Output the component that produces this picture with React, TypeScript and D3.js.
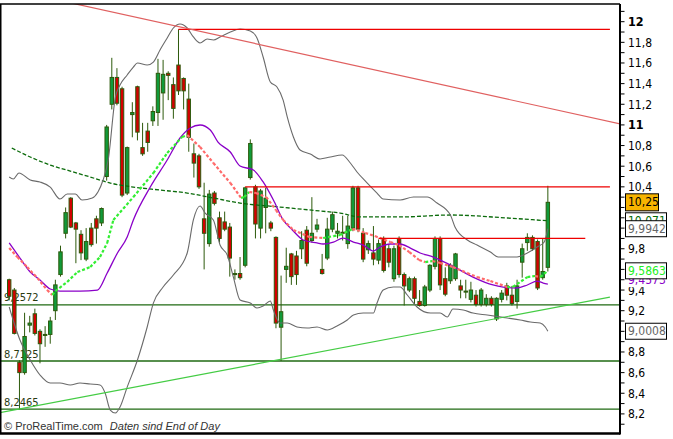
import React from "react";
import * as d3 from "d3";

const W = 673;
const H = 439;

// ---- candles (index 0..105) ----
const opens = [
  9.5, 9.4, 8.7, 8.6, 9.06, 9.17, 9.0, 8.96, 8.97, 9.2,
  9.55, 9.95, 10.29, 10.05, 9.94, 9.7, 10.0, 10.09, 10.05, 10.5,
  11.2, 11.46, 11.35, 10.34, 11.1, 11.37, 10.78, 10.94, 11.04, 11.12,
  11.31, 11.5, 11.39, 11.58, 11.45, 11.25, 10.72, 10.7, 10.09, 9.85,
  10.34, 10.1, 10.06, 10.01, 9.55, 9.56, 9.64, 10.49, 10.4, 10.0,
  10.2, 10.05, 9.91, 9.04, 9.6, 9.75, 9.73, 9.8, 9.98, 9.88,
  9.99, 9.6, 9.71, 9.99, 9.95, 9.96, 9.85, 10.0, 10.39, 9.95,
  9.79, 9.76, 9.69, 9.9, 9.8, 9.51, 9.9, 9.55, 9.4, 9.51,
  9.29, 9.25, 9.4, 9.63, 9.9, 9.51, 9.49, 9.51, 9.44, 9.38,
  9.31, 9.35, 9.26, 9.26, 9.32, 9.12, 9.31, 9.44, 9.35, 9.29,
  9.67, 9.86, 9.91, 9.87, 9.52, 9.62,
];
const highs = [
  9.51, 9.42, 8.72, 9.18, 9.15, 9.22, 9.02, 9.05, 9.14, 9.5,
  9.83, 10.2, 10.3, 10.06, 9.98, 10.0, 10.05, 10.12, 10.2, 11.0,
  11.65, 11.55, 11.37, 10.79, 11.22, 11.38, 11.02, 11.02, 11.18, 11.64,
  11.63, 11.52, 11.46, 11.926, 11.46, 11.4, 10.82, 10.72, 10.44, 10.37,
  10.36, 10.16, 10.16, 10.05, 9.6, 9.72, 10.4, 10.86, 10.42, 10.38,
  10.39, 10.07, 9.92, 9.54, 9.81, 9.76, 9.78, 9.97, 10.02, 10.3,
  10.09, 9.75, 10.1, 10.16, 10.05, 10.12, 10.12, 10.41, 10.41, 10.0,
  9.88, 10.02, 9.89, 9.92, 9.84, 9.83, 9.92, 9.57, 9.53, 9.53,
  9.4, 9.45, 9.65, 9.92, 9.92, 9.62, 9.66, 9.76, 9.5, 9.5,
  9.48, 9.4, 9.42, 9.36, 9.34, 9.33, 9.4, 9.47, 9.44, 9.5,
  9.85, 9.95, 9.93, 9.89, 9.9, 10.41,
];
const lows = [
  9.3, 8.97, 8.2465, 8.58, 8.99, 8.96, 8.69, 8.85, 8.88, 9.11,
  9.53, 9.9, 10.0, 9.66, 9.69, 9.68, 9.82, 9.85, 10.02, 10.46,
  11.15, 11.19, 10.3, 10.32, 10.88, 10.85, 10.7, 10.74, 10.99, 10.99,
  11.05, 11.24, 11.06, 11.29, 11.15, 10.74, 10.49, 10.38, 9.6, 9.82,
  10.22, 9.86, 9.97, 9.53, 9.5, 9.5, 9.62, 10.47, 9.9, 9.9,
  9.95, 9.97, 9.03, 8.7125, 9.47, 9.45, 9.45, 9.7, 9.63, 9.86,
  9.96, 9.55, 9.69, 9.96, 9.9, 9.88, 9.8, 9.97, 9.96, 9.67,
  9.75, 9.64, 9.65, 9.57, 9.62, 9.48, 9.52, 9.25, 9.38, 9.26,
  9.24, 9.24, 9.38, 9.6, 9.4, 9.34, 9.46, 9.49, 9.32, 9.32,
  9.28, 9.24, 9.24, 9.24, 9.24, 9.1, 9.28, 9.3, 9.25, 9.22,
  9.52, 9.78, 9.78, 9.4, 9.5, 9.58,
];
const closes = [
  9.34, 8.98, 8.6, 8.95, 9.08, 8.98, 8.88, 8.97, 9.1, 9.45,
  9.77, 10.15, 10.01, 9.99, 9.76, 9.87, 9.84, 10.0, 10.19, 10.98,
  11.46, 11.21, 10.32, 10.78, 11.12, 10.93, 10.72, 10.83, 11.13, 11.5,
  11.49, 11.48, 11.16, 11.33, 11.33, 10.88, 10.63, 10.4, 9.95, 10.33,
  10.24, 9.9, 9.99, 9.71, 9.56, 9.52, 10.39, 10.82, 10.04, 10.36,
  10.29, 10.0, 9.08, 9.19, 9.63, 9.53, 9.55, 9.88, 9.66, 9.95,
  10.03, 9.56, 9.99, 10.13, 9.97, 9.95, 10.02, 10.39, 9.99, 9.7,
  9.85, 9.7, 9.85, 9.59, 9.67, 9.8, 9.55, 9.44, 9.51, 9.32,
  9.25, 9.43, 9.64, 9.9, 9.45, 9.36, 9.64, 9.75, 9.4, 9.39,
  9.4, 9.26, 9.4, 9.32, 9.26, 9.32, 9.37, 9.35, 9.27, 9.44,
  9.8, 9.91, 9.8, 9.42, 9.58, 10.25,
];

// ---- indicators: [candle index, price] ----
const upperBand: [number, number][] = [
  [0, 10.495], [0.8, 10.476], [1.9, 10.534], [4.1, 10.466], [6, 10.447], [8, 10.398],
  [9.9, 10.282], [11.3, 10.33], [12.9, 10.33], [14.2, 10.272], [16.2, 10.292], [17.3, 10.35],
  [18.3, 10.466], [19.3, 10.66], [20.7, 11.27], [21.6, 11.387], [23, 11.484], [24.2, 11.561],
  [25, 11.6], [26.9, 11.58], [28.1, 11.609], [29.4, 11.726], [30.8, 11.842], [32, 11.939],
  [33.3, 11.978], [34.7, 11.939], [35.9, 11.852], [37.2, 11.794], [38.6, 11.832], [39.8, 11.823],
  [41.1, 11.852], [43.1, 11.9], [45, 11.929], [47, 11.91], [48.3, 11.842], [49.5, 11.658],
  [50.9, 11.416], [52.2, 11.367], [53.4, 11.241], [54.2, 11.077], [55.4, 10.883], [56.7, 10.757],
  [58.7, 10.718], [60.6, 10.67], [62.6, 10.689], [64.9, 10.708], [66.5, 10.631], [67.8, 10.544],
  [69.8, 10.437], [71.7, 10.34], [72.9, 10.282], [76.2, 10.272], [78.8, 10.301], [81.5, 10.301],
  [83.4, 10.243], [86, 10.127], [86.9, 10.011], [89.3, 9.885], [91.2, 9.836], [93.8, 9.768],
  [95.3, 9.72], [99, 9.72], [101, 9.759], [102.9, 9.817], [104.3, 9.866], [105, 9.9942],
];
const lowerBand: [number, number][] = [
  [0, 9.236], [2.1, 8.916], [4.1, 8.722], [6, 8.577], [8, 8.499], [9.9, 8.499], [11.9, 8.48],
  [13.8, 8.499], [15.8, 8.489], [17.7, 8.48], [18.7, 8.402], [19.7, 8.237], [20.7, 8.208],
  [21.6, 8.266], [23, 8.46], [25, 8.722], [26.9, 9.042], [28.1, 9.274], [30, 9.429], [32, 9.546],
  [34.7, 9.759], [35.9, 10.079], [37.2, 10.214], [38.2, 10.146], [39.8, 10.079], [41.1, 9.836],
  [42.5, 9.739], [43.7, 9.526], [45, 9.303], [47, 9.274], [48.3, 9.226], [49.5, 9.245],
  [50.9, 9.294], [51.5, 9.206], [52.8, 9.081], [54.2, 9.081], [56.1, 9.042], [58.1, 9.032],
  [60, 9.042], [62, 9.013], [63.9, 9.052], [65.9, 9.11], [67.1, 9.158], [69, 9.177], [71, 9.177],
  [71.7, 9.274], [72.9, 9.4], [74.9, 9.429], [76.2, 9.429], [77.6, 9.352], [79.5, 9.236],
  [82.1, 9.177], [84, 9.177], [85.4, 9.139], [86.5, 9.216], [88.5, 9.206], [90.4, 9.177],
  [93.2, 9.158], [97.1, 9.129], [99.6, 9.11], [101.6, 9.09], [103.5, 9.081], [104.5, 9.042],
  [105, 9.0008],
];
const purpleMA: [number, number][] = [
  [0, 9.856], [2.1, 9.71], [4.1, 9.575], [6, 9.497], [8, 9.41], [9.9, 9.39], [13.8, 9.39],
  [17.2, 9.4], [19.1, 9.565], [21.1, 9.759], [23, 9.914], [24.2, 10.079], [27.5, 10.398],
  [30.8, 10.66], [33.3, 10.873], [35.3, 10.97], [37.2, 10.999], [39.2, 10.951], [40.7, 10.834],
  [43.1, 10.738], [45, 10.602], [47.6, 10.563], [49.5, 10.447], [51.5, 10.272], [53.4, 10.079],
  [55.2, 9.982], [57.3, 9.885], [60, 9.856], [61.2, 9.846], [63.2, 9.865], [65.1, 9.904],
  [67.1, 9.865], [69, 9.836], [71, 9.778], [72.3, 9.817], [74.3, 9.846], [76.2, 9.846],
  [78.2, 9.807], [80.1, 9.759], [82.7, 9.72], [86, 9.643], [90.4, 9.526], [94.3, 9.449],
  [96.3, 9.429], [99, 9.42], [101, 9.449], [102.9, 9.487], [104.1, 9.468], [105, 9.4573],
];
const signalMA: [number, number][] = [
  [0, 9.807], [1.6, 9.72], [3.5, 9.623], [5.5, 9.516], [7.4, 9.4], [8.4, 9.352], [9, 9.39],
  [11.3, 9.478], [13.3, 9.575], [15.8, 9.623], [17.7, 9.72], [19.1, 9.856], [20.3, 10.079],
  [24.2, 10.301], [28.1, 10.534], [30.8, 10.728], [33.7, 10.883], [34.7, 10.902], [37.2, 10.786],
  [39.8, 10.631], [43.1, 10.437], [43.7, 10.398], [45.2, 10.292], [45.8, 10.301], [46.8, 10.35],
  [48.1, 10.34], [50.1, 10.301], [52, 10.175], [53.4, 10.079], [55.4, 9.982], [58.5, 9.914],
  [61.2, 9.904], [63.2, 9.923], [64.5, 9.933], [66.9, 9.991], [67.8, 9.982], [69.4, 9.953],
  [71.3, 9.923], [74.3, 9.865], [76, 9.836], [78, 9.768], [79.9, 9.691], [81.1, 9.671],
  [82.5, 9.681], [84, 9.662], [86.5, 9.623], [89.3, 9.565], [91.2, 9.526], [93.8, 9.487],
  [97.1, 9.429], [98.2, 9.43], [101, 9.526], [102.5, 9.536], [103.5, 9.526], [105, 9.5863],
];
const longMA: [number, number][] = [
  [0.5, 10.776], [4.1, 10.689], [8, 10.611], [11.9, 10.553], [15.8, 10.495], [19.7, 10.437],
  [24.2, 10.398], [29.4, 10.369], [34.7, 10.34], [39.8, 10.292], [45, 10.243], [52.8, 10.204],
  [60.6, 10.166], [64.5, 10.146], [68.4, 10.108], [76.2, 10.108], [86, 10.127], [97.1, 10.098],
  [105, 10.071],
];

// ---- drawn levels ----
const supportLevels = [9.2572, 8.7125, 8.2465];
const supportLabels = ["9,2572", "8,7125", "8,2465"];
const resistanceLevels = [11.926, 10.4, 9.9];
const resistanceFrom = [33, 46, 72];
const resistanceTo = [117.1, 117.1, 112.3];
const trendDown: [number, number][] = [[10, 12.204], [119.1, 11.009]];
const trendUp: [number, number][] = [[-1.8, 8.213], [117.1, 9.332]];

// ---- axis (labels hidden behind the value boxes are left out) ----
const axisLabels = [8.2, 8.4, 8.6, 8.8, 9.2, 9.4, 9.8, 10.4, 10.6, 10.8, 11, 11.2, 11.4, 11.6, 11.8, 12];
const lastValues = [10.25, 10.071, 9.9942, 9.4573, 9.5863, 9.0008];
const lastTexts = ["10,25", "10,071", "9,9942", "9,4573", "9,5863", "9,0008"];
const lastColors = ["#000000", "#006a00", "#666666", "#8a00c8", "#22ee22", "#666666"];

const PLOT_R = 620;
const PLOT_T = 4;
const PLOT_B = 433;

const x = d3.scaleLinear().domain([0, 105]).range([9.2, 547.85]);
const y = d3.scaleLinear().domain([8.2, 12]).range([413.9, 21.7]);

const fmt = (v: number) => {
  const s = String(Math.round(v * 10) / 10);
  return s.replace(".", ",");
};

const lineGen = d3
  .line<[number, number]>()
  .x((d) => x(d[0]))
  .y((d) => y(d[1]))
  .curve(d3.curveMonotoneX);

const straight = d3
  .line<[number, number]>()
  .x((d) => x(d[0]))
  .y((d) => y(d[1]));

const AX_FONT = "'DejaVu Sans Condensed', 'DejaVu Sans', sans-serif";

export default function App() {
  const candles = opens.map((o, i) => ({ i, o, h: highs[i], l: lows[i], c: closes[i] }));
  const minorTicks = d3.range(81, 122).map((k) => k / 10);

  const sigSegs = signalMA.slice(1).map((p, k) => {
    const a = signalMA[k];
    return { a, b: p, up: p[1] >= a[1] };
  });

  return (
    <svg
      width={W}
      height={H}
      style={{ position: "absolute", left: 0, top: 0, background: "#fff" }}
      xmlns="http://www.w3.org/2000/svg"
    >
      <defs>
        <clipPath id="plot">
          <rect x={0} y={PLOT_T} width={PLOT_R} height={PLOT_B - PLOT_T} />
        </clipPath>
      </defs>
      <rect x={0} y={0} width={W} height={H} fill="#fff" />

      <g clipPath="url(#plot)">
        {supportLevels.map((v, k) => (
          <g key={"s" + k}>
            <line x1={0} x2={PLOT_R} y1={y(v)} y2={y(v)} stroke="#1f6a12" strokeWidth={1.3} />
            <text x={4} y={y(v) - 3.5} fontSize={11} fontFamily={AX_FONT} fill="#2a3a12">
              {supportLabels[k]}
            </text>
          </g>
        ))}

        {candles.map((d) => {
          const cx = x(d.i);
          const up = d.c >= d.o;
          const top = y(Math.max(d.o, d.c));
          const bot = y(Math.min(d.o, d.c));
          return (
            <g key={"c" + d.i}>
              <line x1={cx} x2={cx} y1={y(d.h)} y2={y(d.l)} stroke="#2d5a0c" strokeWidth={1} />
              <rect
                x={cx - 1.7}
                y={top}
                width={3.4}
                height={Math.max(bot - top, 0.8)}
                fill={up ? "#109a3a" : "#d40000"}
                stroke="#2d5a0c"
                strokeWidth={1}
              />
            </g>
          );
        })}

        <path d={lineGen(longMA) || ""} fill="none" stroke="#0b6b0b" strokeWidth={1.3} strokeDasharray="4 2" />
        <path d={lineGen(upperBand) || ""} fill="none" stroke="#6a6a6a" strokeWidth={1.1} />
        <path d={lineGen(lowerBand) || ""} fill="none" stroke="#6a6a6a" strokeWidth={1.1} />
        <path d={lineGen(purpleMA) || ""} fill="none" stroke="#8a00c8" strokeWidth={1.3} />
        {sigSegs.map((s, k) => (
          <path
            key={"g" + k}
            d={straight([s.a, s.b]) || ""}
            fill="none"
            stroke={s.up ? "#33ee33" : "#ff6a6a"}
            strokeWidth={2.2}
            strokeDasharray="3 2"
          />
        ))}

        {resistanceLevels.map((v, k) => (
          <line
            key={"r" + k}
            x1={x(resistanceFrom[k])}
            x2={x(resistanceTo[k])}
            y1={y(v)}
            y2={y(v)}
            stroke="#ee0000"
            strokeWidth={1.3}
          />
        ))}
        <path d={straight(trendDown) || ""} stroke="#e06060" strokeWidth={1.2} fill="none" />
        <path d={straight(trendUp) || ""} stroke="#44cc44" strokeWidth={1.2} fill="none" />

        <text x={4} y={430} fontSize={11} fontFamily="'Liberation Sans', Arial, sans-serif" fill="#333">
          © ProRealTime.com{"  "}
          <tspan fontStyle="italic" dx={4}>Daten sind End of Day</tspan>
        </text>
      </g>

      <line x1={0} x2={PLOT_R} y1={PLOT_T} y2={PLOT_T} stroke="#000" strokeWidth={1.5} />
      <line x1={0.75} x2={0.75} y1={PLOT_T} y2={PLOT_B} stroke="#000" strokeWidth={1.5} />
      <line x1={0} x2={PLOT_R} y1={PLOT_B + 0.5} y2={PLOT_B + 0.5} stroke="#000" strokeWidth={2.5} />
      <line x1={PLOT_R} x2={PLOT_R} y1={PLOT_T} y2={PLOT_B + 1.5} stroke="#000" strokeWidth={2} />

      {minorTicks.map((v) => (
        <line key={"t" + v} x1={PLOT_R} x2={PLOT_R + 4.5} y1={y(v)} y2={y(v)} stroke="#000" strokeWidth={1} />
      ))}
      {axisLabels.map((v) => {
        const isInt = v === 11 || v === 12;
        return (
          <text
            key={"l" + v}
            x={628}
            y={y(v) + 1}
            dominantBaseline="middle"
            fontSize={isInt ? 12.5 : 12}
            fontWeight={isInt ? "bold" : "normal"}
            fontFamily={AX_FONT}
            fill="#000"
          >
            {fmt(v)}
          </text>
        );
      })}

      {lastValues.map((v, k) => {
        const isPrice = k === 0;
        const isPurple = k === 3;
        const cy = y(v) + (isPurple ? -4 : 0);
        const w = isPrice ? 33 : 41;
        const h = isPrice ? 17 : isPurple ? 14 : 16;
        return (
          <g key={"b" + k}>
            <rect
              x={625.5}
              y={cy - h / 2}
              width={w}
              height={h}
              fill={isPrice ? "#f7b400" : "#fff"}
              stroke={isPurple ? "none" : "#000"}
              strokeWidth={1}
            />
            <text
              x={628}
              y={cy + 0.5}
              dominantBaseline="middle"
              fontSize={12}
              fontFamily={AX_FONT}
              fill={lastColors[k]}
            >
              {lastTexts[k]}
            </text>
          </g>
        );
      })}
    </svg>
  );
}
